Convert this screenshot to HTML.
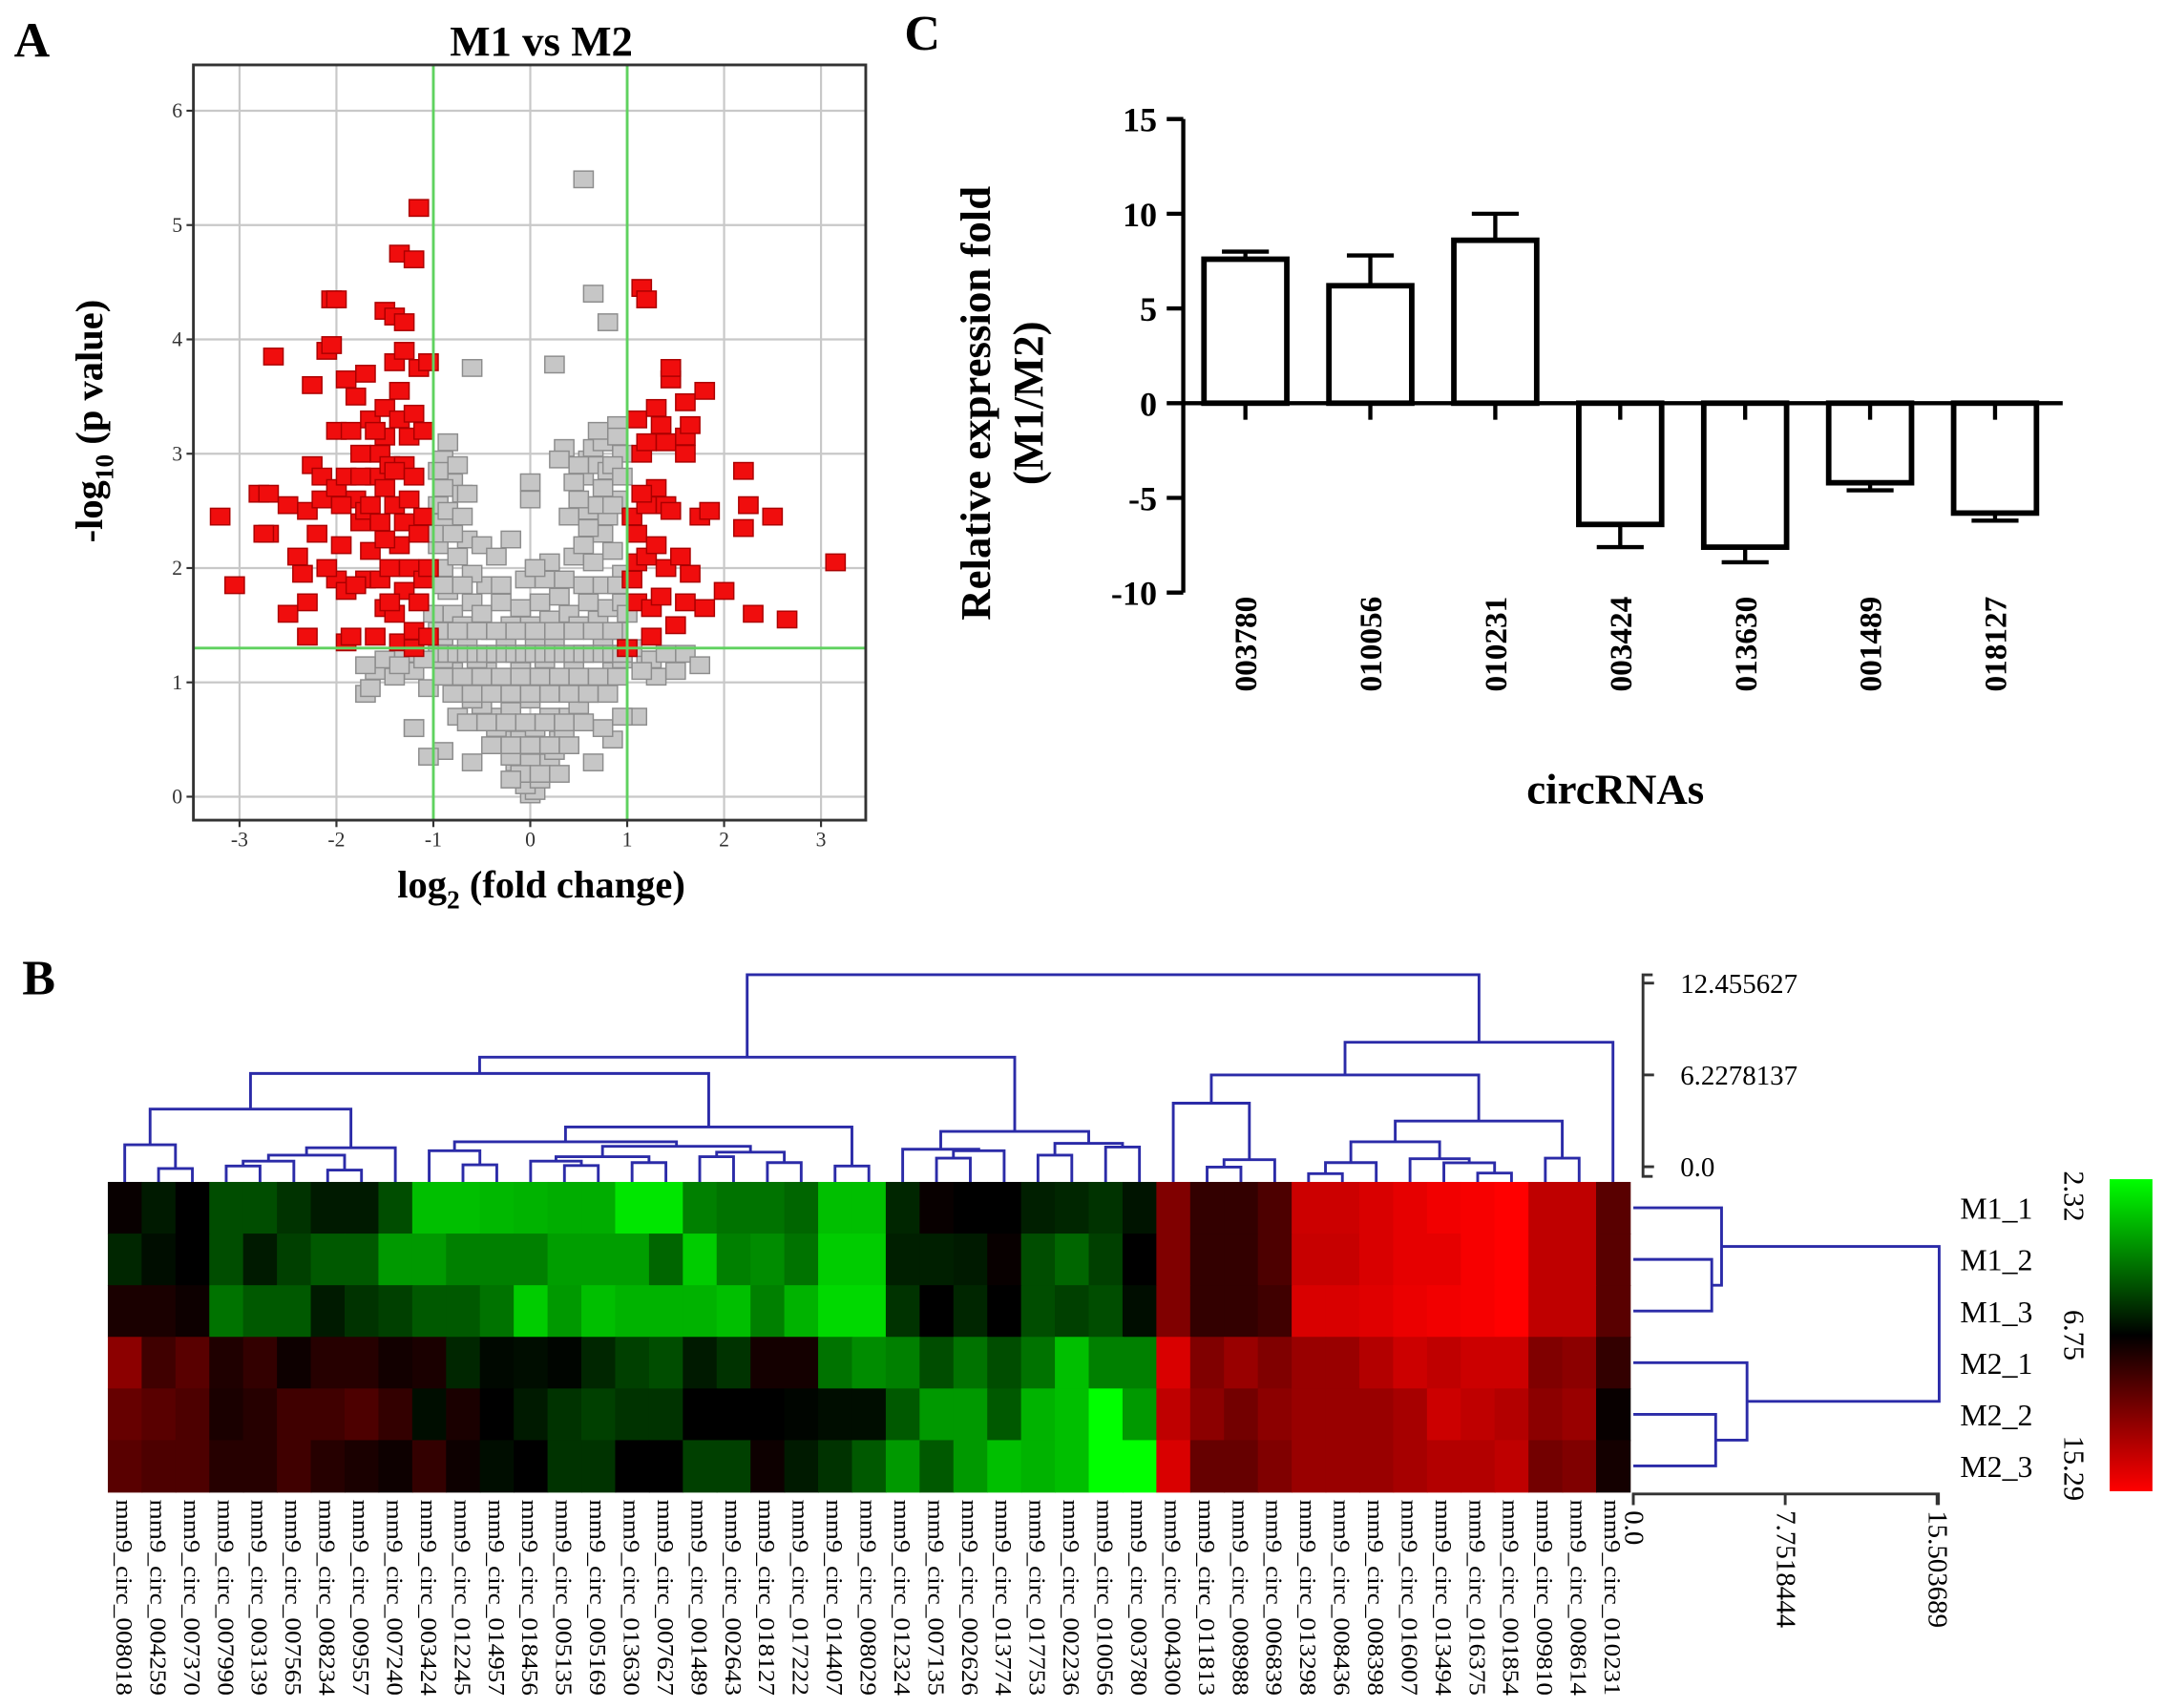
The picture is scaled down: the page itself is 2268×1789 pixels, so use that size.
<!DOCTYPE html>
<html><head><meta charset="utf-8"><style>
html,body{margin:0;padding:0;background:#fff}
svg{display:block}
text{font-family:"Liberation Serif",serif}
</style></head><body>
<svg id="fig" xmlns="http://www.w3.org/2000/svg" width="2268" height="1789" viewBox="0 0 1568 1237">
<defs><linearGradient id="cbar" x1="0" y1="0" x2="0" y2="1"><stop offset="0" stop-color="#00ff00"/><stop offset="0.5" stop-color="#000"/><stop offset="1" stop-color="#ff0000"/></linearGradient></defs>
<g id="panelA"></g>
<g id="panelC"></g>
<g id="panelB"></g>
</svg>
<script>
// ---------- Panel A data ----------
const volXTicks=[-3,-2,-1,0,1,2,3];
const volYTicks=[0,1,2,3,4,5,6];
const redX=[-3.2,-3.05,-2.65,-2.8,-2.7,-2.7,-2.75,-2.5,-2.5,-2.4,-2.35,-2.3,-2.3,-2.3,-2.25,-2.25,-2.2,-2.15,-2.15,-2.1,-2.05,-2.05,-2.0,-2.0,-2.0,-2.0,-1.95,-1.9,-1.9,-1.9,-1.9,-1.85,-1.85,-1.8,-1.8,-1.75,-1.75,-1.7,-1.7,-1.7,-1.65,-1.65,-1.6,-1.6,-1.55,-1.55,-1.55,-1.5,-1.5,-1.5,-1.5,-1.5,-1.45,-1.45,-1.4,-1.4,-1.4,-1.4,-1.35,-1.35,-1.35,-1.35,-1.35,-1.3,-1.3,-1.3,-1.3,-1.3,-1.25,-1.25,-1.25,-1.2,-1.2,-1.2,-1.2,-1.15,-1.15,-1.15,-1.15,-1.1,-1.1,-1.1,-1.05,-1.05,-1.05,-1.6,-1.8,-2.1,-1.45,-1.75,-1.95,-1.65,-1.4,-1.2,-1.5,
1.0,1.05,1.05,1.1,1.1,1.1,1.1,1.15,1.2,1.15,1.2,1.2,1.2,1.25,1.25,1.3,1.3,1.35,1.35,1.4,1.4,1.4,1.45,1.45,1.45,1.5,1.55,1.6,1.6,1.6,1.65,1.65,1.6,1.75,1.8,1.8,1.85,2.0,2.2,2.2,2.25,2.3,2.5,2.65,3.15,1.3,1.15];
const redY=[2.45,1.85,3.85,2.65,2.65,2.3,2.3,2.55,1.6,2.1,1.95,2.5,1.7,1.4,2.9,3.6,2.3,2.6,2.8,3.9,3.95,4.35,4.35,1.9,3.2,2.7,2.2,3.65,2.8,1.8,1.35,1.4,3.2,2.6,3.5,3.0,2.4,3.7,2.5,1.9,2.15,3.3,2.8,1.4,3.0,2.4,1.9,4.25,3.4,3.15,2.7,1.65,2.9,2.0,4.2,3.8,2.55,1.6,4.75,3.55,3.3,2.2,1.35,4.15,3.9,2.9,2.4,1.8,3.15,2.6,2.0,4.7,3.35,1.45,1.3,5.15,3.75,2.3,1.7,3.2,2.45,1.9,3.8,1.4,2.0,3.2,1.85,2.0,1.7,2.8,2.55,2.55,2.85,2.8,2.25,
1.3,2.45,1.9,3.3,2.3,2.05,1.7,4.45,4.35,3.0,3.1,2.55,2.1,1.4,1.65,3.4,2.2,3.25,1.75,3.1,2.55,2.0,3.65,3.75,2.5,1.5,2.1,3.45,3.15,3.0,3.25,1.95,1.7,2.45,3.55,1.65,2.5,1.8,2.85,2.35,2.55,1.6,2.45,1.55,2.05,2.7,2.65];
const greyX=[0,0.05,-0.05,0.1,-0.1,0.15,-0.15,0.2,-0.2,0.25,-0.25,0.3,-0.3,0,0.1,-0.1,0.35,-0.35,0.05,-0.4,0.4,-0.5,0.5,0.2,-0.2,0,-0.6,0.6,-0.3,0.3,-0.7,0.7,0.1,-0.1,-0.45,0.45,-0.8,0.85,0.15,-0.15,0.55,-0.55,-0.9,0.95,-1.2,-1.4,-1.6,-1.7,1.2,1.3,1.5,1.6,1.75,1.1,0.85,-1.2,-0.9,0.65,-0.6,0.3,-1.05,1.05,-1.3,0.75,-0.75,
-0.9,-0.8,-0.85,-0.9,-0.95,-0.7,-0.6,-0.5,-0.4,-0.3,-0.2,-0.1,0,0.1,0.2,0.3,0.4,0.5,0.6,0.7,0.8,0.9,0.95,-0.75,-0.65,-0.5,-0.35,-0.2,-0.05,0.05,0.2,0.35,0.45,0.55,0.65,0.75,0.85,0.95,-0.9,0.4,0.6,0.8,0.9,-0.45,-0.6,0.25,-0.25,0.75,-0.65,-1.0,1.0,-1.0,0.15,
-0.85,-0.9,-0.75,-0.8,-0.7,-0.65,-0.95,0.5,0.55,0.6,0.65,0.7,0.75,0.8,0.85,0.9,0.95,0.35,0.3,0.45,0.7,0.85,0,0,0.05,0.05,
0.55,0.65,0.8,-0.6,0.25,-1.05,-1.2,0.95,-1.65,
-0.95,-0.85,-0.75,-0.65,-0.55,-0.45,-0.35,-0.25,-0.15,-0.05,0.05,0.15,0.25,0.35,0.45,0.55,0.65,0.75,0.85,0.95,
-0.9,-0.7,-0.5,-0.3,-0.1,0.1,0.3,0.5,0.7,0.9,
-0.8,-0.6,-0.4,-0.2,0,0.2,0.4,0.6,0.8,
-0.65,-0.45,-0.25,-0.05,0.15,0.35,0.55,
-0.4,-0.2,0,0.2,0.4,
-0.1,0.1,-0.2,
-0.95,-0.75,-0.55,-0.35,-0.15,0.05,0.25,0.45,0.65,0.85,
-0.9,-0.7,-0.3,0.55,0.75,0.9,
0.6,0.5,0.75,0.85,0.95,0.9,0.7,
-0.9,-0.85,-0.8,-0.7,-0.95,
-1.5,-1.35,-1.1,-1.7,1.25,1.4,1.15];
const greyY=[0.02,0.05,0.1,0.15,0.2,0.25,0.3,0.3,0.35,0.4,0.45,0.5,0.5,0.3,0.45,0.5,0.55,0.6,0.6,0.7,0.7,0.8,0.8,0.7,0.75,0.85,0.85,0.9,0.95,1.0,1.0,1.0,1.05,1.1,1.1,1.15,1.1,1.1,1.2,1.25,1.25,1.2,1.2,1.2,1.1,1.05,1.1,0.9,1.2,1.05,1.1,1.25,1.15,0.7,0.5,0.6,0.4,0.3,0.3,0.2,0.95,1.3,1.25,0.6,0.7,
1.4,1.6,1.8,2.0,2.2,1.5,1.7,1.6,1.45,1.7,1.5,1.65,1.5,1.7,1.55,1.75,1.6,1.5,1.7,1.55,1.65,1.45,1.7,2.1,2.25,2.2,2.1,2.25,1.9,2.0,2.05,1.9,2.1,2.2,2.05,2.3,2.15,1.95,2.4,2.45,2.5,2.45,2.6,1.85,1.95,1.35,1.35,1.35,1.35,1.6,1.6,2.3,1.9,
3.1,2.95,2.9,2.75,2.65,2.65,2.55,2.6,2.8,2.95,3.05,2.9,2.7,2.85,3.1,3.25,3.0,3.05,2.95,2.75,2.55,2.55,2.6,2.75,2.0,1.35,
5.4,4.4,4.15,3.75,3.78,0.35,0.6,0.7,0.95,
1.25,1.25,1.25,1.25,1.25,1.25,1.25,1.25,1.25,1.25,1.25,1.25,1.25,1.25,1.25,1.25,1.25,1.25,1.25,1.25,
1.05,1.05,1.05,1.05,1.05,1.05,1.05,1.05,1.05,1.05,
0.9,0.9,0.9,0.9,0.9,0.9,0.9,0.9,0.9,
0.65,0.65,0.65,0.65,0.65,0.65,0.65,
0.45,0.45,0.45,0.45,0.45,
0.2,0.2,0.15,
1.45,1.45,1.45,1.45,1.45,1.45,1.45,1.45,1.45,1.45,
1.85,1.85,1.85,1.85,1.85,1.85,
2.35,2.9,3.1,2.9,2.8,3.15,3.2,
2.7,2.5,2.3,2.45,2.85,
1.2,1.15,1.2,1.15,1.2,1.25,1.1];
// ---------- Panel C data ----------
const barCats=["003780","010056","010231","003424","013630","001489","018127"];
const barVals=[7.6,6.2,8.6,-6.4,-7.6,-4.2,-5.8];
const barErrs=[0.4,1.6,1.4,1.2,0.8,0.4,0.4];
const barYTicks=[15,10,5,0,-5,-10];
// ---------- Panel B data ----------
const hmCols=["008018","004259","007370","007990","003139","007565","008234","009557","007240","003424","012245","014957","018456","005135","005169","013630","007627","001489","002643","018127","017222","014407","008029","012324","007135","002626","013774","017753","002236","010056","003780","004300","011813","008988","006839","013298","008436","008398","016007","013494","016375","001854","009810","008614","010231"];
const hmRows=["M1_1","M1_2","M1_3","M2_1","M2_2","M2_3"];
const hmR1=[0.03,-0.1,0,-0.3,-0.3,-0.2,-0.1,-0.1,-0.3,-0.75,-0.75,-0.72,-0.7,-0.68,-0.68,-0.9,-0.9,-0.5,-0.45,-0.45,-0.4,-0.75,-0.75,-0.15,0.03,0,0,-0.12,-0.15,-0.2,-0.08,0.5,0.2,0.2,0.3,0.8,0.8,0.85,0.9,0.95,0.97,1,0.75,0.75,0.35];
const hmR2=[-0.15,-0.05,0,-0.3,-0.1,-0.25,-0.35,-0.35,-0.6,-0.6,-0.5,-0.5,-0.5,-0.62,-0.62,-0.62,-0.4,-0.8,-0.5,-0.55,-0.45,-0.8,-0.8,-0.12,-0.12,-0.1,0.03,-0.3,-0.4,-0.25,0,0.5,0.2,0.2,0.3,0.78,0.78,0.85,0.9,0.9,0.97,1,0.75,0.75,0.35];
const hmR3=[0.1,0.1,0.05,-0.45,-0.35,-0.35,-0.1,-0.2,-0.25,-0.35,-0.35,-0.45,-0.8,-0.6,-0.75,-0.7,-0.7,-0.7,-0.75,-0.5,-0.7,-0.85,-0.85,-0.2,0,-0.15,0,-0.3,-0.25,-0.3,-0.05,0.5,0.2,0.2,0.25,0.85,0.85,0.88,0.92,0.95,0.97,1,0.75,0.75,0.35];
const hmR4=[0.55,0.25,0.35,0.12,0.2,0.05,0.15,0.15,0.07,0.1,-0.15,-0.03,-0.05,-0.02,-0.15,-0.25,-0.3,-0.1,-0.2,0.08,0.08,-0.45,-0.55,-0.5,-0.3,-0.45,-0.3,-0.45,-0.75,-0.5,-0.5,0.85,0.5,0.6,0.5,0.6,0.6,0.7,0.8,0.75,0.8,0.8,0.5,0.55,0.2];
const hmR5=[0.4,0.35,0.3,0.1,0.15,0.25,0.25,0.3,0.2,-0.05,0.1,0,-0.1,-0.2,-0.25,-0.2,-0.2,0,0,0,-0.02,-0.05,-0.05,-0.35,-0.6,-0.6,-0.35,-0.7,-0.75,-1,-0.6,0.75,0.55,0.45,0.55,0.6,0.6,0.6,0.65,0.8,0.75,0.7,0.55,0.6,0.03];
const hmR6=[0.35,0.3,0.3,0.15,0.15,0.25,0.15,0.1,0.05,0.2,0.05,-0.05,0,-0.2,-0.2,0,0,-0.25,-0.25,0.05,-0.1,-0.2,-0.35,-0.6,-0.35,-0.6,-0.75,-0.7,-0.75,-1,-1,0.85,0.4,0.4,0.5,0.6,0.6,0.6,0.65,0.7,0.7,0.75,0.45,0.5,0.08];
const colTree=[13.95,[8.4,[7.3,[4.9,[2.5,0,[0.9,1,2]],[2.3,[1.8,[1.4,[1.07,3,4],5],[0.8,6,7]],8]],[3.7,[2.7,[2.1,9,[1.15,10,11]],[2.4,[1.7,[1.4,12,[1.1,13,14]],[1.3,15,16]],[2.0,[1.7,17,18],[1.3,19,20]]]],[1.07,21,22]]],[3.4,[2.2,23,[2.1,[1.6,24,25],26]],[2.6,[1.8,27,28],[2.35,29,30]]]],[9.4,[7.2,[5.3,31,[1.5,[1.0,32,33],34]],[4.1,[2.7,[1.3,[0.56,35,36],37],[1.56,38,[1.29,39,[0.6,40,41]]]],[1.6,42,43]]],44]];
const rowTree=[15.6,[4.5,0,[4.0,1,2]],[5.8,3,[4.2,4,5]]];
const colScaleTicks=["0.0","6.2278137","12.455627"];
const rowScaleTicks=["0.0","7.7518444","15.503689"];
const cbarLabels=["2.32","6.75","15.29"];

const NS="http://www.w3.org/2000/svg";
function mk(tag,attrs,parent,txt){const e=document.createElementNS(NS,tag);for(const k in attrs)e.setAttribute(k,attrs[k]);if(txt!==undefined)e.textContent=txt;parent.appendChild(e);return e;}

// ================= Panel A =================
(function(){
const g=document.getElementById('panelA');
const L=140,R=627,T=47,B=594;
const xS=v=>384+v*70.2, yS=v=>577-v*82.8;
let t=mk('text',{x:10,y:41,'font-size':36,'font-weight':'bold'},g,'A');

t=mk('text',{x:392,y:40,'font-size':31,'font-weight':'bold','text-anchor':'middle'},g,'M1 vs M2');

volXTicks.forEach(v=>{
 let l=mk('line',{x1:xS(v),x2:xS(v),y1:T,y2:B,stroke:'#c8c8c8','stroke-width':1.5},g);
 
 let k=mk('line',{x1:xS(v),x2:xS(v),y1:B,y2:B+5,stroke:'#333','stroke-width':1.5},g);
 
 let tx=mk('text',{x:xS(v),y:B+19,'font-size':15,'text-anchor':'middle',fill:'#333'},g,String(v));
 
});
volYTicks.forEach(v=>{
 let l=mk('line',{x1:L,x2:R,y1:yS(v),y2:yS(v),stroke:'#c8c8c8','stroke-width':1.5},g);
 
 let k=mk('line',{x1:L-5,x2:L,y1:yS(v),y2:yS(v),stroke:'#333','stroke-width':1.5},g);
 
 let tx=mk('text',{x:L-8,y:yS(v)+5,'font-size':15,'text-anchor':'end',fill:'#333'},g,String(v));
 
});
for(let i=0;i<greyX.length;i++){
 let r=mk('rect',{x:xS(greyX[i])-7,y:yS(greyY[i])-6,width:14,height:12,fill:'#c6c6c6',stroke:'#8c8c8c','stroke-width':1},g);
 
}
for(let i=0;i<redX.length;i++){
 let r=mk('rect',{x:xS(redX[i])-7,y:yS(redY[i])-6,width:14,height:12,fill:'#f00d0d',stroke:'#a00','stroke-width':1},g);
 
}
[-1,1].forEach(v=>{let l=mk('line',{x1:xS(v),x2:xS(v),y1:T,y2:B,stroke:'#5fd25f','stroke-width':2},g);
 });
let h=mk('line',{x1:L,x2:R,y1:yS(1.3),y2:yS(1.3),stroke:'#5fd25f','stroke-width':2},g);

let fr=mk('rect',{x:L,y:T,width:R-L,height:B-T,fill:'none',stroke:'#333','stroke-width':2},g);

t=mk('text',{x:392,y:650,'font-size':28,'font-weight':'bold','text-anchor':'middle'},g);

t.innerHTML='log<tspan font-size="19" dy="8">2</tspan><tspan dy="-8"> (fold change)</tspan>';
t=mk('text',{x:0,y:0,'font-size':28,'font-weight':'bold','text-anchor':'middle',transform:'translate(74,305) rotate(-90)'},g);

t.innerHTML='-log<tspan font-size="19" dy="8">10</tspan><tspan dy="-8"> (p value)</tspan>';
})();

// ================= Panel C =================
(function(){
const g=document.getElementById('panelC');
const yS=v=>292-v*13.72, xC=i=>902+i*90.5;
let t=mk('text',{x:655,y:36,'font-size':36,'font-weight':'bold'},g,'C');

let ax=mk('line',{x1:857,x2:857,y1:yS(15),y2:yS(-10),stroke:'#000','stroke-width':3},g);

barYTicks.forEach(v=>{
 let k=mk('line',{x1:845,x2:857,y1:yS(v),y2:yS(v),stroke:'#000','stroke-width':3},g);
 
 let tx=mk('text',{x:838,y:yS(v)+9,'font-size':25,'font-weight':'bold','text-anchor':'end'},g,String(v));
 
});
barCats.forEach((c,i)=>{
 const x=xC(i),v=barVals[i],e=barErrs[i],s=v>=0?1:-1,y0=yS(0),y1=yS(v),ye=yS(v+s*e);
 let b=mk('rect',{x:x-30,y:Math.min(y0,y1),width:60,height:Math.abs(y1-y0),fill:'#fff',stroke:'#000','stroke-width':4},g);
 
 let el=mk('line',{x1:x,x2:x,y1:y1,y2:ye,stroke:'#000','stroke-width':3},g);
 
 let ec=mk('line',{x1:x-17,x2:x+17,y1:ye,y2:ye,stroke:'#000','stroke-width':3},g);
 
 let k=mk('line',{x1:x,x2:x,y1:y0,y2:y0+12,stroke:'#000','stroke-width':3},g);
 
 let tx=mk('text',{x:0,y:0,'font-size':23,'font-weight':'bold','text-anchor':'end',transform:`translate(${x+8},432) rotate(-90)`},g,c);
 
});
let xa=mk('line',{x1:857,x2:1494,y1:yS(0),y2:yS(0),stroke:'#000','stroke-width':3},g);

t=mk('text',{x:1170,y:582,'font-size':31,'font-weight':'bold','text-anchor':'middle'},g,'circRNAs');

t=mk('text',{x:0,y:0,'font-size':31,'font-weight':'bold','text-anchor':'middle',transform:'translate(717,292) rotate(-90)'},g,'Relative expression fold');

t=mk('text',{x:0,y:0,'font-size':31,'font-weight':'bold','text-anchor':'middle',transform:'translate(755,292) rotate(-90)'},g,'(M1/M2)');

})();

// ================= Panel B =================
(function(){
const g=document.getElementById('panelB');
const HL=78,HT=856,CW=24.5,RH=37.4,nC=hmCols.length;
const rows=[hmR1,hmR2,hmR3,hmR4,hmR5,hmR6];
const col=z=>z<0?`rgb(0,${Math.round(-z*255)},0)`:`rgb(${Math.round(z*255)},0,0)`;
let t=mk('text',{x:16,y:720,'font-size':36,'font-weight':'bold'},g,'B');

rows.forEach((r,ri)=>r.forEach((z,ci)=>{
 let c=mk('rect',{x:HL+ci*CW,y:HT+ri*RH,width:CW+0.6,height:RH+0.6,fill:col(z)},g);
 
}));
hmCols.forEach((c,i)=>{
 let tx=mk('text',{x:0,y:0,'font-size':17,textLength:142,lengthAdjust:'spacingAndGlyphs',transform:`translate(${HL+CW*(i+0.5)-6},1086) rotate(90)`},g,'mm9_circ_'+c);
 
});
hmRows.forEach((r,i)=>{
 let tx=mk('text',{x:1446,y:HT+RH*(i+0.5)+8,'font-size':22,'text-anchor':'middle'},g,r);
 
});
const cx=i=>HL+CW*(i+0.5), cy=h=>HT-h*10.76;
function drawCol(n){
 if(typeof n==='number')return{x:cx(n),y:HT};
 const a=drawCol(n[1]),b=drawCol(n[2]),y=cy(n[0]);
 let p=mk('path',{d:`M${a.x},${a.y}V${y}H${b.x}V${b.y}`,fill:'none',stroke:'#2b2ba8','stroke-width':2},g);
 
 return{x:(a.x+b.x)/2,y:y};
}
drawCol(colTree);
const RX0=1183, rx=h=>RX0+h*14.2, ry=i=>HT+RH*(i+0.5);
function drawRow(n){
 if(typeof n==='number')return{x:RX0,y:ry(n)};
 const a=drawRow(n[1]),b=drawRow(n[2]),x=rx(n[0]);
 let p=mk('path',{d:`M${a.x},${a.y}H${x}V${b.y}H${b.x}`,fill:'none',stroke:'#2b2ba8','stroke-width':2},g);
 
 return{x:x,y:(a.y+b.y)/2};
}
drawRow(rowTree);
let sa=mk('path',{d:'M1197,706H1190V852H1197',fill:'none',stroke:'#333','stroke-width':2},g);

colScaleTicks.forEach((s,i)=>{const y=845-i*66.5;
 let k=mk('line',{x1:1190,x2:1198,y1:y,y2:y,stroke:'#333','stroke-width':2},g);
 
 let tx=mk('text',{x:1217,y:y+7,'font-size':20},g,s);
 
});
let rs=mk('path',{d:'M1183,1090V1082H1404V1090',fill:'none',stroke:'#333','stroke-width':2},g);

rowScaleTicks.forEach((s,i)=>{const x=1183+i*110;
 let k=mk('line',{x1:x,x2:x,y1:1082,y2:1090,stroke:'#333','stroke-width':2},g);
 
 let tx=mk('text',{x:0,y:0,'font-size':20,transform:`translate(${x-6},1094) rotate(90)`},g,s);
 
});
let cb=mk('rect',{x:1528,y:854,width:31,height:226,fill:'url(#cbar)'},g);

cbarLabels.forEach((s,i)=>{const y=[848,967,1087][i];
 let tx=mk('text',{x:0,y:0,'font-size':21,'text-anchor':i===0?'start':(i===1?'middle':'end'),transform:`translate(1495,${y}) rotate(90)`},g,s);
 
});
})();
</script>
</body></html>
